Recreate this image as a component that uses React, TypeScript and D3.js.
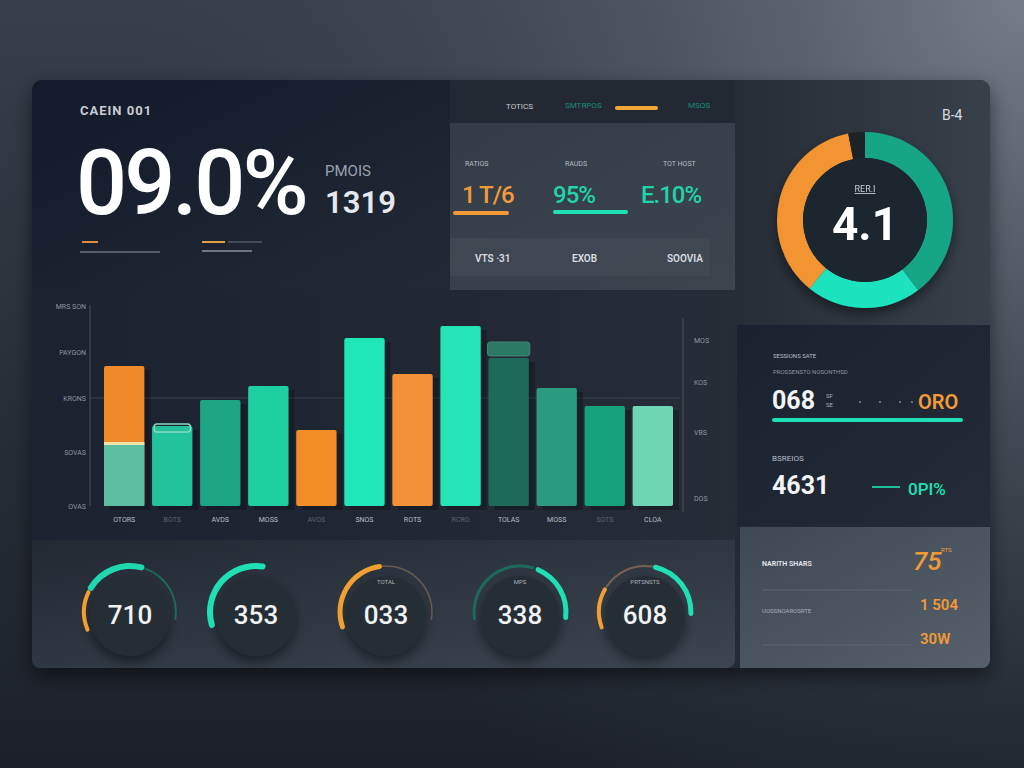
import React from "react";
import * as d3 from "d3";

// ---------- data ----------
const categories = ["OTORS", "BOTS", "AVDS", "MOSS", "AVOS", "SNOS", "ROTS", "RCRO", "TOLAS", "MOSS ", "SOTS", "CLOA"];
const barValues = [70, 40, 53, 60, 38, 84, 66, 90, 74, 59, 50, 50];
const barBaseValues = [31, 0, 0, 0, 0, 0, 0, 0, 0, 0, 0, 0];
const barColors = ["#f0892a", "#22c39b", "#1ea583", "#1ed0a0", "#f28d26", "#1fe6b6", "#f39038", "#24e4b6", "#1c6a57", "#2c9a7f", "#16a37b", "#6fd6b3"];
const leftTickValues = [0, 27, 54, 77, 100];
const leftTickLabels = ["OVAS", "SOVAS", "KRONS", "PAYGON", "MRS SON"];
const rightTickValues = [4, 37, 62, 83];
const rightTickLabels = ["DOS", "VBS", "KOS", "MOS"];

const donutSegments = [
  { name: "teal", value: 143, color: "#17a585" },
  { name: "bright", value: 76, color: "#1fe3bd" },
  { name: "orange", value: 130, color: "#f29430" },
  { name: "gap", value: 11, color: "#1b2028" },
];

const gaugeValues = ["710", "353", "033", "338", "608"];
const gaugeLabels = ["", "", "TOTAL", "MPS", "PRTSNSTS"];
// segments per gauge: [startDeg, endDeg, color, width]
const gaugeSegments = [
  [[-115, -62, "#f0a030", 4], [-62, 18, "#20d8b0", 6], [18, 100, "#1c6a5a", 2]],
  [[-110, 12, "#1fe0b5", 6]],
  [[-112, -5, "#f0a030", 5], [-5, 100, "#6a5a50", 1.5]],
  [[-100, 18, "#1c6a5a", 3], [20, 100, "#1fe0b5", 5]],
  [[-112, -58, "#f0a030", 4], [-58, 10, "#7a6050", 2], [10, 95, "#1fe0b5", 5]],
];

const kpiLabels = ["RATIOS", "RAUDS", "TOT HOST"];
const kpiValues = ["1 T/6", "95%", "E.10%"];
const kpiSub = ["VTS ·31", "EXOB", "SOOVIA"];

export default function App() {
  const x = d3.scaleBand<string>().domain(categories).range([104, 673]).paddingInner(0.16).paddingOuter(0);
  const y = d3.scaleLinear().domain([0, 100]).range([506, 306]);

  const pie = d3.pie<any>().value((d) => d.value).sort(null);
  const arcs = pie(donutSegments);
  const donutArc = d3.arc<any>().innerRadius(62).outerRadius(88);

  const font = "Roboto, 'DejaVu Sans', sans-serif";

  return (
    <svg width={1024} height={768} style={{ position: "absolute", left: 0, top: 0 }} fontFamily={font}>
      <defs>
        <linearGradient id="bg" x1="0" y1="0" x2="0" y2="1">
          <stop offset="0" stopColor="#36404b" />
          <stop offset="0.5" stopColor="#282f38" />
          <stop offset="1" stopColor="#1c2129" />
        </linearGradient>
        <radialGradient id="bgTR" cx="1024" cy="0" r="900" gradientUnits="userSpaceOnUse">
          <stop offset="0" stopColor="#737e88" stopOpacity="1" />
          <stop offset="0.45" stopColor="#56616b" stopOpacity="0.6" />
          <stop offset="1" stopColor="#3a434d" stopOpacity="0" />
        </radialGradient>
        <linearGradient id="topLeft" x1="0" y1="0" x2="1" y2="1">
          <stop offset="0" stopColor="#121a2b" />
          <stop offset="1" stopColor="#222a36" />
        </linearGradient>
        <linearGradient id="card" x1="0" y1="0" x2="1" y2="1">
          <stop offset="0" stopColor="#343c47" />
          <stop offset="1" stopColor="#3c444e" />
        </linearGradient>
        <linearGradient id="donutArea" x1="0" y1="0" x2="1" y2="0">
          <stop offset="0" stopColor="#262d36" />
          <stop offset="1" stopColor="#38404a" />
        </linearGradient>
        <linearGradient id="chartArea" x1="0" y1="0" x2="1" y2="0">
          <stop offset="0" stopColor="#1b2230" />
          <stop offset="1" stopColor="#262d37" />
        </linearGradient>
        <linearGradient id="gaugeArea" x1="0" y1="0" x2="1" y2="1">
          <stop offset="0" stopColor="#222933" />
          <stop offset="1" stopColor="#3c4550" />
        </linearGradient>
        <linearGradient id="rightDark" x1="0" y1="0" x2="1" y2="1">
          <stop offset="0" stopColor="#1a2130" />
          <stop offset="1" stopColor="#252c37" />
        </linearGradient>
        <linearGradient id="rightLight" x1="0" y1="0" x2="1" y2="1">
          <stop offset="0" stopColor="#3f4954" />
          <stop offset="1" stopColor="#55606b" />
        </linearGradient>
        <filter id="shadow" x="-20%" y="-20%" width="140%" height="140%">
          <feDropShadow dx="0" dy="8" stdDeviation="10" floodColor="#000" floodOpacity="0.5" />
        </filter>
        <filter id="soft" x="-30%" y="-30%" width="160%" height="160%">
          <feDropShadow dx="0" dy="6" stdDeviation="6" floodColor="#000" floodOpacity="0.45" />
        </filter>
      </defs>

      {/* page background */}
      <rect width={1024} height={768} fill="url(#bg)" />
      <rect width={1024} height={768} fill="url(#bgTR)" />

      {/* main panel */}
      <rect x={32} y={80} width={958} height={588} rx={10} fill="#252b34" filter="url(#shadow)" />

      {/* top-left block */}
      <path d="M42,80 H450 V290 H32 V90 A10,10 0 0 1 42,80 Z" fill="url(#topLeft)" />
      <rect x={450} y={80} width={285} height={210} fill="#222933" />
      <text x={80} y={115} fill="#c8ccd2" fontSize={13} fontWeight={700} letterSpacing={1}>CAEIN 001</text>
      <text x={76} y={214} fill="#ffffff" fontSize={90} fontWeight={500} letterSpacing={-3}>09.0%</text>
      <text x={325} y={176} fill="#9aa2ad" fontSize={15}>PMOIS</text>
      <text x={325} y={213} fill="#e6e8ec" fontSize={31} fontWeight={600}>1319</text>
      <line x1={82} x2={98} y1={242} y2={242} stroke="#e08c3a" strokeWidth={2} />
      <line x1={80} x2={160} y1={252} y2={252} stroke="#6b7380" strokeWidth={1.5} />
      <line x1={202} x2={225} y1={242} y2={242} stroke="#e0a040" strokeWidth={2} />
      <line x1={228} x2={262} y1={242} y2={242} stroke="#6b7380" strokeWidth={1} />
      <line x1={202} x2={252} y1={251} y2={251} stroke="#8a929c" strokeWidth={1.5} />

      {/* tabs */}
      <text x={506} y={109} fill="#c8ccd2" fontSize={8}>TOTICS</text>
      <text x={565} y={108} fill="#1a8c78" fontSize={8}>SMTRPOS</text>
      <rect x={615} y={106} width={43} height={4} rx={2} fill="#f0a838" />
      <text x={688} y={108} fill="#1a8c78" fontSize={8}>MSOS</text>

      {/* KPI card */}
      <rect x={450} y={123} width={285} height={167} fill="url(#card)" />
      <rect x={450} y={238} width={260} height={38} fill="#444c57" opacity={0.6} />
      {kpiLabels.map((l, i) => (
        <text key={l} x={[465, 565, 663][i]} y={166} fill="#b8bec6" fontSize={7}>{l}</text>
      ))}
      {kpiValues.map((v, i) => (
        <text key={v} x={[462, 553, 641][i]} y={203} fill={i === 0 ? "#f29a38" : "#1fd5a8"} fontSize={24} fontWeight={500} letterSpacing={-1}>{v}</text>
      ))}
      <rect x={453} y={211} width={56} height={4} rx={2} fill="#f29a38" />
      <rect x={553} y={210} width={75} height={4} rx={2} fill="#1fe0b5" />
      {kpiSub.map((v, i) => (
        <text key={v} x={[475, 572, 667][i]} y={262} fill="#d8dce0" fontSize={10} fontWeight={600}>{v}</text>
      ))}

      {/* donut area */}
      <path d="M735,80 H980 A10,10 0 0 1 990,90 V325 H735 Z" fill="url(#donutArea)" />
      <text x={942} y={120} fill="#d8dce0" fontSize={14}>B-4</text>
      <g transform="translate(865,220)" filter="url(#soft)">
        {arcs.map((a, i) => (
          <path key={i} d={donutArc(a) || ""} fill={a.data.color} />
        ))}
        <circle r={62} fill="#1f262e" />
        <text y={-28} textAnchor="middle" fill="#c8ccd2" fontSize={9} textDecoration="underline">RER.I</text>
        <text y={20} textAnchor="middle" fill="#ffffff" fontSize={46} fontWeight={700}>4.1</text>
      </g>

      {/* bar chart area */}
      <rect x={32} y={290} width={703} height={250} fill="url(#chartArea)" />
      <line x1={90} x2={90} y1={305} y2={506} stroke="#4a525c" strokeWidth={1} />
      <line x1={683} x2={683} y1={318} y2={512} stroke="#4a525c" strokeWidth={1} />
      <line x1={90} x2={680} y1={y(54)} y2={y(54)} stroke="#3a424c" strokeWidth={1} />
      {leftTickValues.map((t, i) => (
        <text key={t} x={86} y={y(t) + 3} textAnchor="end" fill="#8e96a0" fontSize={7}>{leftTickLabels[i]}</text>
      ))}
      {rightTickValues.map((t, i) => (
        <text key={t} x={694} y={y(t) + 3} fill="#8e96a0" fontSize={7}>{rightTickLabels[i]}</text>
      ))}
      {categories.map((c, i) => {
        const bx = x(c) as number;
        const bw = x.bandwidth();
        const top = y(barValues[i]);
        const base = barBaseValues[i];
        return (
          <g key={c}>
            <rect x={bx + 6} y={top + 4} width={bw} height={y(0) - top} fill="#000" opacity={0.25} />
            <rect x={bx} y={top} width={bw} height={y(0) - top} rx={2} fill={barColors[i]} />
            {base > 0 && (
              <>
                <rect x={bx} y={y(base)} width={bw} height={y(0) - y(base)} fill="#5cbfa2" />
                <rect x={bx} y={y(base) - 2} width={bw} height={3} fill="#f0e2a8" />
              </>
            )}
            <text x={bx + bw / 2} y={522} textAnchor="middle" fill={i % 3 === 1 ? "#5c646e" : "#b8bec6"} fontSize={7}>{c}</text>
          </g>
        );
      })}
      {/* caps */}
      <rect x={(x(categories[1]) as number) + 2} y={y(barValues[1]) - 2} width={x.bandwidth() - 4} height={8} rx={3} fill="none" stroke="#8ad8c0" strokeWidth={1.5} />
      <rect x={(x(categories[8]) as number) - 1} y={y(barValues[8]) - 16} width={x.bandwidth() + 2} height={14} rx={3} fill="#2c7a66" stroke="#3c8a74" />

      {/* gauges area */}
      <path d="M32,540 H735 V660 A8,8 0 0 1 727,668 H40 A8,8 0 0 1 32,660 Z" fill="url(#gaugeArea)" />
      {gaugeValues.map((v, i) => {
        const cx = [130, 256, 386, 520, 645][i];
        const cy = 612;
        const r = 46;
        return (
          <g key={i} transform={`translate(${cx},${cy})`}>
            <circle r={40} cy={4} fill="#262d36" filter="url(#soft)" />
            {gaugeSegments[i].map((s: any, j) => {
              const arc = d3.arc<any>()
                .innerRadius(r - s[3] / 2)
                .outerRadius(r + s[3] / 2)
                .startAngle((s[0] * Math.PI) / 180)
                .endAngle((s[1] * Math.PI) / 180)
                .cornerRadius(s[3] / 2);
              return <path key={j} d={arc({}) || ""} fill={s[2]} />;
            })}
            {gaugeLabels[i] && (
              <text y={-28} textAnchor="middle" fill="#aab0b8" fontSize={6}>{gaugeLabels[i]}</text>
            )}
            <text y={12} textAnchor="middle" fill="#f0f2f4" fontSize={26} fontWeight={500}>{v}</text>
          </g>
        );
      })}

      {/* right dark panel */}
      <rect x={737} y={325} width={253} height={201} fill="url(#rightDark)" />
      <text x={773} y={358} fill="#b8bec6" fontSize={6}>SESSIONS SATE</text>
      <text x={773} y={374} fill="#8e96a0" fontSize={6}>PROSSENSTO NOSONTHSD</text>
      <text x={772} y={409} fill="#f2f4f6" fontSize={25} fontWeight={700}>068</text>
      <text x={826} y={398} fill="#aab0b8" fontSize={6}>SF</text>
      <text x={826} y={407} fill="#aab0b8" fontSize={6}>SE</text>
      {[860, 880, 900, 912].map((dx) => (
        <circle key={dx} cx={dx} cy={402} r={0.9} fill="#8e96a0" />
      ))}
      <text x={918} y={409} fill="#f29a38" fontSize={20} fontWeight={600}>ORO</text>
      <rect x={772} y={418} width={191} height={4} rx={2} fill="#1fe0b5" />
      <text x={772} y={461} fill="#b8bec6" fontSize={8}>BSREIOS</text>
      <text x={772} y={494} fill="#f2f4f6" fontSize={25} fontWeight={700}>4631</text>
      <line x1={872} x2={900} y1={487} y2={487} stroke="#1fbf98" strokeWidth={2} />
      <text x={908} y={495} fill="#1fe0b5" fontSize={17} fontWeight={500}>0PI%</text>

      {/* right light panel */}
      <path d="M740,527 H990 V660 A8,8 0 0 1 982,668 H740 Z" fill="url(#rightLight)" />
      <text x={762} y={566} fill="#e6e8ec" fontSize={7} fontWeight={600}>NARITH SHARS</text>
      <text x={913} y={570} fill="#f29a38" fontSize={26} fontWeight={500} fontStyle="italic">75</text>
      <text x={941} y={552} fill="#f29a38" fontSize={6}>RTS</text>
      <line x1={762} x2={912} y1={590} y2={590} stroke="#5c6670" strokeWidth={1} />
      <text x={762} y={613} fill="#aab0b8" fontSize={6}>UOSSNOAROSRTE</text>
      <text x={920} y={610} fill="#f29a38" fontSize={15} fontWeight={600}>1 504</text>
      <text x={920} y={644} fill="#f29a38" fontSize={15} fontWeight={600}>30W</text>
      <line x1={762} x2={912} y1={645} y2={645} stroke="#5c6670" strokeWidth={1} />
    </svg>
  );
}
